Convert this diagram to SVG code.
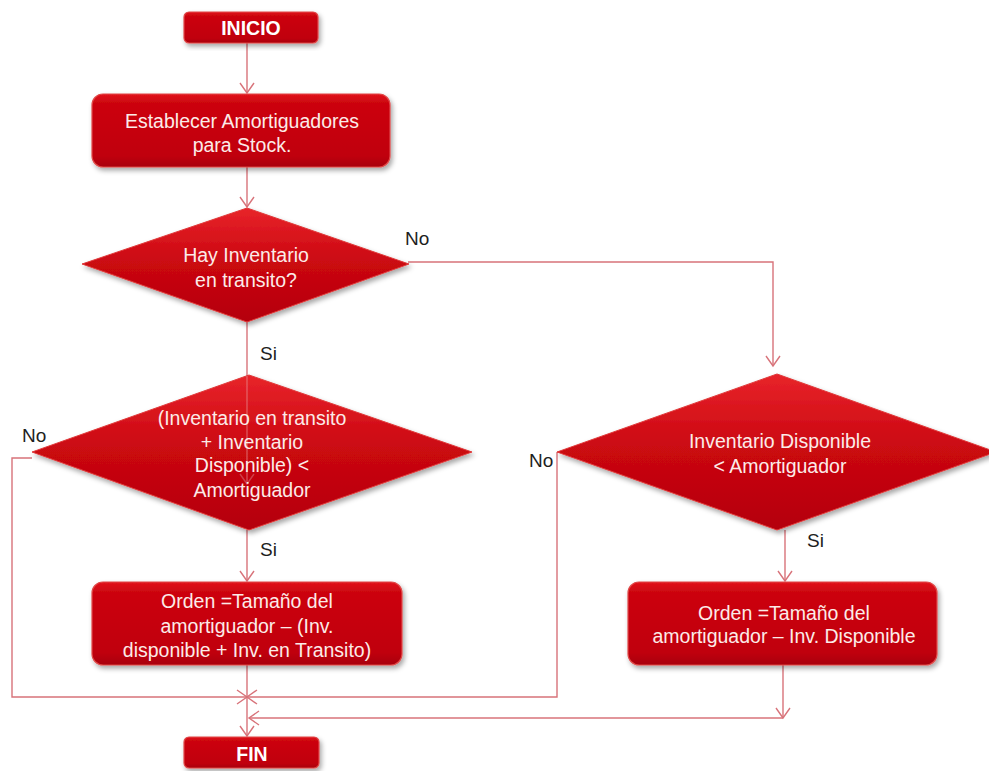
<svg xmlns="http://www.w3.org/2000/svg" width="989" height="771" viewBox="0 0 989 771">
<defs>
<linearGradient id="gBox" x1="0" y1="0" x2="0" y2="1">
<stop offset="0" stop-color="#E2141C"/>
<stop offset="0.12" stop-color="#CC0610"/>
<stop offset="0.85" stop-color="#C0000C"/>
<stop offset="1" stop-color="#A80008"/>
</linearGradient>
<linearGradient id="gDia" x1="0" y1="0" x2="0" y2="1">
<stop offset="0" stop-color="#E8242A"/>
<stop offset="0.45" stop-color="#CC0812"/>
<stop offset="1" stop-color="#B4000A"/>
</linearGradient>
<filter id="sh" x="-10%" y="-10%" width="125%" height="135%">
<feDropShadow dx="2" dy="3" stdDeviation="2.5" flood-color="#000" flood-opacity="0.35"/>
</filter>
<marker id="arr" markerUnits="userSpaceOnUse" markerWidth="14" markerHeight="18" refX="11" refY="8" orient="auto">
<path d="M1,1 L11,8 L1,15" fill="none" stroke="#D8737A" stroke-width="1.4"/>
</marker>
</defs>
<style>
.box{fill:url(#gBox);stroke:#E04848;stroke-width:1.2;filter:url(#sh)}
.dia{fill:url(#gDia);stroke:#E03A3A;stroke-width:1;filter:url(#sh)}
.t{font-family:"Liberation Sans",Arial,sans-serif;font-size:19.5px;fill:#FCEBE8;text-anchor:middle}
.tb{font-family:"Liberation Sans",Arial,sans-serif;font-size:19.5px;font-weight:bold;fill:#FFFFFF;text-anchor:middle}
.lbl{font-family:"Liberation Sans",Arial,sans-serif;font-size:19px;fill:#1E1E1E}
.c{fill:none;stroke:#D8737A;stroke-width:1.4}
</style>
<rect width="989" height="771" fill="#FFFFFF"/>

<g id="connectors">
<path class="c" d="M247,43 V93" marker-end="url(#arr)"/>
<path class="c" d="M247,167 V207" marker-end="url(#arr)"/>
<path class="c" d="M408,262 H773 V366" marker-end="url(#arr)"/>
<path class="c" d="M247,322 V376"/>
<path class="c" d="M32,458 H12 V697 H247" marker-end="url(#arr)"/>
<path class="c" d="M557,452 V697 H247" marker-end="url(#arr)"/>
<path class="c" d="M247,530 V581" marker-end="url(#arr)"/>
<path class="c" d="M247,665 V736" marker-end="url(#arr)"/>
<path class="c" d="M785,530 V581" marker-end="url(#arr)"/>
<path class="c" d="M783,665 V718" marker-end="url(#arr)"/>
<path class="c" d="M783,718 H249" marker-end="url(#arr)"/>
</g>

<g id="inicio">
<rect class="box" x="184" y="12" width="134" height="31" rx="5"/>
<text class="tb" x="251" y="35">INICIO</text>
</g>

<g id="establecer">
<rect class="box" x="92" y="94" width="298" height="73" rx="11"/>
<text class="t" x="242" y="128">Establecer Amortiguadores</text>
<text class="t" x="242" y="152">para Stock.</text>
</g>

<g id="decision1">
<polygon class="dia" points="247,208 409,264 247,322 82,264"/>
<text class="t" x="246" y="262">Hay Inventario</text>
<text class="t" x="246" y="287">en transito?</text>
</g>

<g id="decision2">
<polygon class="dia" points="249,375 472,452 249,530 32,452"/>
<path d="M247,376 V484" fill="none" stroke="#E8A0A4" stroke-width="1.2" opacity="0.55" marker-end="url(#arr)"/>
<text class="t" x="252" y="425">(Inventario en transito</text>
<text class="t" x="252" y="449">+ Inventario</text>
<text class="t" x="252" y="472">Disponible) &lt;</text>
<text class="t" x="252" y="497">Amortiguador</text>
</g>

<g id="decision3">
<polygon class="dia" points="777,374 996,452 777,530 557,452"/>
<text class="t" x="780" y="448">Inventario Disponible</text>
<text class="t" x="780" y="473">&lt; Amortiguador</text>
</g>

<g id="orden1">
<rect class="box" x="92" y="582" width="310" height="83" rx="11"/>
<text class="t" x="247" y="608">Orden =Tamaño del</text>
<text class="t" x="247" y="633">amortiguador – (Inv.</text>
<text class="t" x="247" y="657">disponible + Inv. en Transito)</text>
</g>

<g id="orden2">
<rect class="box" x="628" y="582" width="309" height="83" rx="11"/>
<text class="t" x="784" y="620">Orden =Tamaño del</text>
<text class="t" x="784" y="643">amortiguador – Inv. Disponible</text>
</g>

<g id="fin">
<rect class="box" x="184" y="737" width="135" height="31" rx="5"/>
<text class="tb" x="252" y="761">FIN</text>
</g>

<g id="labels">
<text class="lbl" x="405" y="245">No</text>
<text class="lbl" x="260" y="360">Si</text>
<text class="lbl" x="22" y="442">No</text>
<text class="lbl" x="260" y="556">Si</text>
<text class="lbl" x="529" y="467">No</text>
<text class="lbl" x="807" y="547">Si</text>
</g>
</svg>
